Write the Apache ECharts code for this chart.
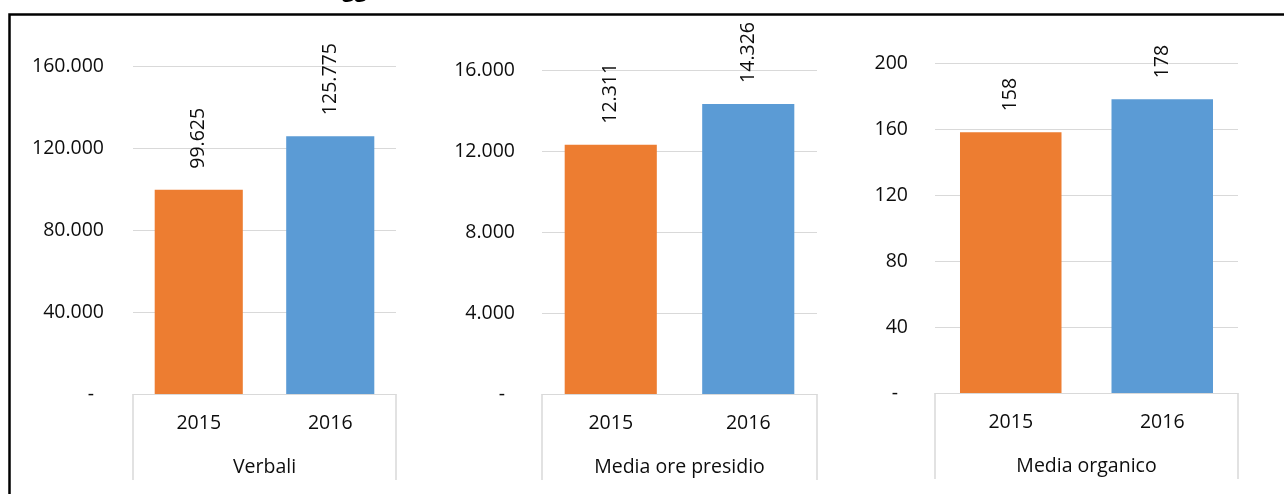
<!DOCTYPE html>
<html>
<head>
<meta charset="utf-8">
<script src="https://cdn.jsdelivr.net/npm/echarts@6/dist/echarts.min.js"></script>
<style>
  html, body { margin: 0; padding: 0; background: #ffffff; }
  #chart { width: 1284px; height: 494px; }
</style>
</head>
<body>
<div id="chart"></div>
<script>
// Categories and values for the three panels
const years = ['2015', '2016'];
const groups = ['Verbali', 'Media ore presidio', 'Media organico'];
const verbali = [99625, 125775];
const mediaOrePresidio = [12311, 14326];
const mediaOrganico = [158, 178];

// Value-axis tick labels for each panel
const ticksVerbali = [0, 40000, 80000, 120000, 160000];
const ticksOrePresidio = [0, 4000, 8000, 12000, 16000];
const ticksOrganico = [0, 40, 80, 120, 160, 200];

const panelValues = [verbali, mediaOrePresidio, mediaOrganico];
const panelTicks = [ticksVerbali, ticksOrePresidio, ticksOrganico];

const FONT = '"Open Sans", "Liberation Sans", sans-serif';
const FS = 19.5;
const TEXT = '#0d0d0d';
const GRID_LINE = '#d9d9d9';
const yearColors = ['#ed7d31', '#5b9bd5'];

// Italian thousands separator
function fmt(v) {
  return String(v).replace(/\B(?=(\d{3})+(?!\d))/g, '.');
}

// Plot-area placement of each panel
const layout = [
  { left: 133, top: 66, width: 263, height: 328, labelMargin: 29 },
  { left: 542, top: 70, width: 275, height: 324, labelMargin: 27 },
  { left: 935, top: 63, width: 303, height: 330, labelMargin: 27 }
];

const grid = [], xAxis = [], yAxis = [], series = [];

layout.forEach((g, i) => {
  const ticks = panelTicks[i];
  grid.push({ left: g.left, top: g.top, width: g.width, height: g.height, containLabel: false });

  yAxis.push({
    type: 'value',
    gridIndex: i,
    min: ticks[0],
    max: ticks[ticks.length - 1],
    interval: ticks[1] - ticks[0],
    axisLine: { show: false },
    axisTick: { show: false },
    splitLine: { lineStyle: { color: GRID_LINE, width: 1 } },
    axisLabel: {
      margin: g.labelMargin,
      fontFamily: FONT,
      fontSize: FS,
      color: TEXT,
      formatter: v => (v === 0 ? '{dash|-}' : fmt(v)),
      rich: {
        dash: { fontFamily: FONT, fontSize: FS, color: TEXT, padding: [0, 10, 0, 0] }
      }
    }
  });

  // Year labels along the bottom
  xAxis.push({
    type: 'category',
    gridIndex: i,
    data: years,
    axisLine: { lineStyle: { color: GRID_LINE, width: 1 } },
    axisTick: { show: false },
    axisLabel: { margin: 19, fontFamily: FONT, fontSize: FS, color: TEXT }
  });

  // Group label with the bracket lines at the panel edges
  xAxis.push({
    type: 'category',
    gridIndex: i,
    position: 'bottom',
    data: [groups[i]],
    axisLine: { show: false },
    axisTick: { show: true, length: 86, lineStyle: { color: GRID_LINE, width: 1.5 } },
    axisLabel: { margin: 63, fontFamily: FONT, fontSize: FS, color: TEXT },
    splitLine: { show: false }
  });

  series.push({
    type: 'bar',
    xAxisIndex: i * 2,
    yAxisIndex: i,
    barCategoryGap: '33%',
    data: panelValues[i].map((v, k) => ({ value: v, itemStyle: { color: yearColors[k] } })),
    label: {
      show: true,
      position: 'top',
      rotate: 90,
      align: 'left',
      verticalAlign: 'middle',
      distance: 21,
      fontFamily: FONT,
      fontSize: FS,
      color: TEXT,
      formatter: p => fmt(p.value)
    },
    animation: false
  });
});

const chart = echarts.init(document.getElementById('chart'), null, { renderer: 'canvas' });
chart.setOption({
  animation: false,
  backgroundColor: '#ffffff',
  grid, xAxis, yAxis, series,
  graphic: [
    {
      type: 'rect',
      shape: { x: 9.5, y: 14.5, width: 1300, height: 600 },
      style: { fill: 'none', stroke: '#000000', lineWidth: 2.5 },
      silent: true
    },
    {
      type: 'text',
      left: 342,
      top: -20,
      style: { text: 'gg', font: 'bold 22px ' + FONT, fill: '#000000' },
      silent: true
    }
  ]
});
</script>
</body>
</html>
